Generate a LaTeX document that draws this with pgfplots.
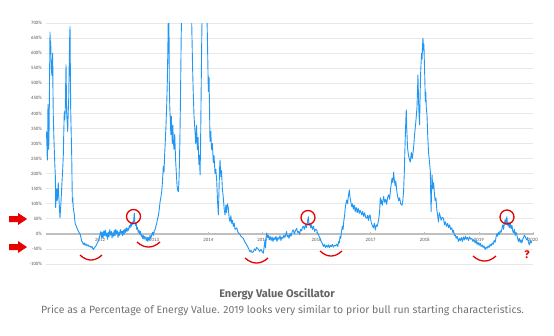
\documentclass[border=0pt]{standalone}
\usepackage{pgfplots}
\pgfplotsset{compat=1.18}
\usepackage{fontspec}
\setmainfont{Fira Sans}
\newfontfamily\tickfont{Carlito}
\definecolor{evoblue}{RGB}{33,150,243}
\definecolor{gridgray}{RGB}{232,232,232}
\definecolor{axgray}{RGB}{191,191,191}
\definecolor{ticktext}{RGB}{89,89,89}
\definecolor{annred}{RGB}{230,0,0}
\definecolor{captitle}{RGB}{100,100,100}
\definecolor{capsub}{RGB}{115,115,115}
\begin{document}
\begin{tikzpicture}[x=1pt,y=1pt]
\useasboundingbox (0,0) rectangle (554,335);
\begin{axis}[
  at={(46pt,71pt)}, anchor=south west,
  scale only axis, width=487pt, height=241pt,
  xmin=2011, xmax=2020, ymin=-100, ymax=700,
  axis x line=middle, axis y line=left,
  y axis line style={draw=none},
  x axis line style={draw=axgray, line width=1.3pt, -},
  xtick={2011,2012,...,2020},
  xticklabels={2011,2012,2013,2014,2015,2016,2017,2018,2019,2020},
  ytick={-100,-50,...,700},
  yticklabel={\pgfmathprintnumber{\tick}\%},
  /pgf/number format/assume math mode=true,
  ticklabel style={font=\tickfont\fontsize{4.9}{5.5}\selectfont, text=ticktext},
  xticklabel style={yshift=1pt},
  yticklabel style={xshift=1pt},
  major x tick style={draw=axgray, line width=0.6pt},
  x tick style={draw=axgray},
  major tick length=3pt,
  y tick style={draw=none},
  ymajorgrids, grid style={draw=gridgray, line width=0.8pt},
  clip=true,
]
\addplot[evoblue, line width=0.9pt, line join=round] coordinates {
(2011.009,340)(2011.018,290)(2011.024,245)(2011.031,330)(2011.037,430)(2011.043,360)(2011.050,280)(2011.055,320)(2011.061,420)(2011.068,560)(2011.074,670)(2011.080,610)(2011.087,640)(2011.092,590)(2011.102,540)(2011.111,525)(2011.116,560)(2011.124,600)(2011.129,470)(2011.135,390)(2011.144,330)(2011.153,280)(2011.163,230)(2011.172,195)(2011.179,87)(2011.185,120)(2011.198,150)(2011.207,110)(2011.216,130)(2011.226,170)(2011.235,130)(2011.246,95)(2011.259,53)(2011.268,80)(2011.277,105)(2011.287,140)(2011.296,173)(2011.309,215)(2011.320,262)(2011.329,340)(2011.338,405)(2011.348,380)(2011.357,420)(2011.364,500)(2011.370,561)(2011.377,470)(2011.383,395)(2011.392,370)(2011.401,340)(2011.410,400)(2011.420,450)(2011.429,560)(2011.436,640)(2011.444,688)(2011.451,520)(2011.457,405)(2011.466,330)(2011.475,262)(2011.481,180)(2011.487,105)(2011.496,120)(2011.503,87)(2011.513,75)(2011.523,65)(2011.532,45)(2011.542,32)(2011.555,28)(2011.567,22)(2011.582,15)(2011.597,10)(2011.610,5)(2011.628,0)(2011.643,-10)(2011.660,-24)(2011.675,-28)(2011.689,-35)(2011.706,-30)(2011.721,-38)(2011.739,-33)(2011.758,-40)(2011.776,-36)(2011.795,-42)(2011.813,-40)(2011.832,-45)(2011.850,-42)(2011.874,-52)(2011.896,-46)(2011.915,-42)(2011.937,-35)(2011.952,-28)(2011.967,-24)(2011.983,-15)(2011.998,-3)
(2012.013,8)(2012.026,-12)(2012.039,5)(2012.054,-15)(2012.068,10)(2012.081,-5)(2012.096,12)(2012.109,-8)(2012.124,3)(2012.137,-18)(2012.152,6)(2012.164,-10)(2012.179,14)(2012.192,-4)(2012.207,8)(2012.220,-14)(2012.235,4)(2012.248,-8)(2012.262,12)(2012.275,-6)(2012.290,15)(2012.303,0)(2012.318,10)(2012.331,-12)(2012.346,6)(2012.359,-5)(2012.373,14)(2012.386,2)(2012.401,9)(2012.414,-6)(2012.429,12)(2012.442,-2)(2012.457,16)(2012.470,5)(2012.484,20)(2012.497,8)(2012.512,18)(2012.525,12)(2012.540,28)(2012.553,20)(2012.568,35)(2012.581,25)(2012.595,40)(2012.608,32)(2012.621,45)(2012.632,69)(2012.641,40)(2012.654,28)(2012.667,35)(2012.677,15)(2012.691,22)(2012.704,5)(2012.719,12)(2012.734,-2)(2012.747,8)(2012.760,-8)(2012.769,-3)(2012.784,-15)(2012.797,-5)(2012.812,-18)(2012.826,-8)(2012.839,-14)(2012.854,-22)(2012.867,-10)(2012.882,-25)(2012.895,-12)(2012.910,-20)(2012.922,-5)(2012.937,-15)(2012.954,-3)(2012.969,5)(2012.984,-5)
(2013.000,10)(2013.015,13)(2013.030,25)(2013.046,35)(2013.061,50)(2013.076,60)(2013.092,80)(2013.107,105)(2013.122,120)(2013.138,140)(2013.153,175)(2013.168,225)(2013.181,205)(2013.192,260)(2013.203,300)(2013.218,362)(2013.231,430)(2013.242,505)(2013.251,600)(2013.260,720)(2013.270,780)(2013.279,495)(2013.288,420)(2013.297,380)(2013.307,330)(2013.316,390)(2013.325,340)(2013.334,300)(2013.344,360)(2013.353,310)(2013.366,280)(2013.379,330)(2013.394,250)(2013.409,200)(2013.422,160)(2013.433,145)(2013.446,140)(2013.455,165)(2013.464,220)(2013.473,300)(2013.483,420)(2013.492,550)(2013.499,660)(2013.510,760)(2013.532,900)(2013.569,1050)(2013.606,980)(2013.643,1100)(2013.671,900)(2013.693,700)(2013.708,560)(2013.721,470)(2013.736,390)(2013.754,340)(2013.767,300)(2013.782,360)(2013.797,280)(2013.810,320)(2013.825,230)(2013.838,260)(2013.847,196)(2013.857,300)(2013.866,450)(2013.875,600)(2013.884,720)(2013.908,900)(2013.940,850)(2013.967,800)(2013.986,620)
(2014.000,472)(2014.013,520)(2014.022,420)(2014.031,306)(2014.046,340)(2014.059,280)(2014.074,300)(2014.092,237)(2014.105,260)(2014.124,200)(2014.138,215)(2014.155,176)(2014.170,110)(2014.185,63)(2014.198,150)(2014.207,210)(2014.216,245)(2014.231,190)(2014.244,210)(2014.259,150)(2014.277,120)(2014.294,80)(2014.309,63)(2014.324,95)(2014.337,70)(2014.351,100)(2014.370,86)(2014.383,55)(2014.401,40)(2014.416,60)(2014.433,35)(2014.447,45)(2014.462,25)(2014.479,35)(2014.494,15)(2014.525,20)(2014.549,5)(2014.577,0)(2014.604,-8)(2014.628,-12)(2014.647,-15)(2014.669,-25)(2014.688,-30)(2014.710,-37)(2014.734,-45)(2014.752,-52)(2014.771,-60)(2014.789,-55)(2014.808,-62)(2014.832,-59)(2014.854,-50)(2014.873,-55)(2014.893,-45)(2014.919,-50)(2014.947,-58)(2014.974,-52)(2014.998,-60)
(2015.017,-64)(2015.030,-45)(2015.048,-20)(2015.057,-47)(2015.070,-10)(2015.079,3)(2015.094,-12)(2015.109,-5)(2015.126,-20)(2015.140,-8)(2015.159,-22)(2015.177,-10)(2015.194,-25)(2015.213,-12)(2015.231,-20)(2015.250,-8)(2015.268,-25)(2015.287,-12)(2015.305,-18)(2015.325,-6)(2015.342,-22)(2015.360,-10)(2015.379,-15)(2015.397,-4)(2015.416,-12)(2015.446,8)(2015.461,-10)(2015.476,-5)(2015.492,-15)(2015.510,2)(2015.529,-8)(2015.553,10)(2015.571,13)(2015.590,0)(2015.612,12)(2015.634,18)(2015.649,5)(2015.667,8)(2015.686,-2)(2015.704,15)(2015.723,10)(2015.741,22)(2015.756,25)(2015.775,15)(2015.793,30)(2015.812,20)(2015.830,38)(2015.849,57)(2015.861,28)(2015.876,35)(2015.893,20)(2015.907,30)(2015.926,15)(2015.945,25)(2015.963,8)(2015.982,15)
(2016.004,13)(2016.019,0)(2016.033,0)(2016.050,-10)(2016.065,-15)(2016.083,-25)(2016.102,-30)(2016.126,-42)(2016.144,-35)(2016.163,-45)(2016.181,-38)(2016.200,-44)(2016.218,-36)(2016.237,-46)(2016.255,-38)(2016.273,-42)(2016.292,-35)(2016.311,-44)(2016.329,-38)(2016.348,-40)(2016.370,-34)(2016.392,-42)(2016.410,-25)(2016.421,-30)(2016.434,-8)(2016.447,-15)(2016.462,10)(2016.477,25)(2016.490,15)(2016.505,45)(2016.518,60)(2016.527,80)(2016.542,100)(2016.558,113)(2016.573,100)(2016.588,125)(2016.606,146)(2016.619,120)(2016.634,105)(2016.651,90)(2016.666,100)(2016.680,82)(2016.697,95)(2016.714,74)(2016.732,88)(2016.751,70)(2016.769,85)(2016.788,68)(2016.806,78)(2016.837,63)(2016.852,75)(2016.871,58)(2016.889,70)(2016.908,55)(2016.930,52)(2016.945,62)(2016.960,45)(2016.976,60)(2016.989,63)
(2017.007,40)(2017.026,30)(2017.050,20)(2017.068,35)(2017.086,13)(2017.104,30)(2017.123,25)(2017.147,47)(2017.164,70)(2017.178,120)(2017.189,100)(2017.197,113)(2017.215,95)(2017.239,124)(2017.258,105)(2017.276,115)(2017.295,98)(2017.313,120)(2017.332,130)(2017.350,115)(2017.369,150)(2017.395,185)(2017.410,170)(2017.424,205)(2017.437,180)(2017.452,160)(2017.465,175)(2017.484,140)(2017.498,125)(2017.517,110)(2017.536,120)(2017.554,100)(2017.579,95)(2017.594,110)(2017.608,140)(2017.621,200)(2017.632,273)(2017.643,340)(2017.651,380)(2017.658,412)(2017.667,350)(2017.682,285)(2017.699,260)(2017.714,250)(2017.732,238)(2017.751,270)(2017.769,250)(2017.793,285)(2017.812,330)(2017.834,370)(2017.856,420)(2017.867,480)(2017.874,528)(2017.884,450)(2017.893,400)(2017.904,362)(2017.913,450)(2017.923,530)(2017.930,560)(2017.941,600)(2017.950,580)(2017.960,630)(2017.967,650)(2017.976,610)(2017.984,630)(2017.991,580)
(2018.000,520)(2018.010,440)(2018.019,470)(2018.028,420)(2018.041,395)(2018.056,320)(2018.070,270)(2018.087,240)(2018.102,208)(2018.111,120)(2018.117,74)(2018.126,150)(2018.134,196)(2018.148,150)(2018.163,170)(2018.180,130)(2018.191,110)(2018.206,120)(2018.223,80)(2018.238,60)(2018.253,40)(2018.269,70)(2018.284,60)(2018.303,45)(2018.321,55)(2018.345,52)(2018.364,30)(2018.382,40)(2018.401,25)(2018.423,35)(2018.441,20)(2018.460,30)(2018.478,15)(2018.500,20)(2018.515,5)(2018.530,12)(2018.547,-5)(2018.562,-3)(2018.580,-15)(2018.599,-8)(2018.623,-25)(2018.641,-15)(2018.660,-22)(2018.678,-12)(2018.697,-25)(2018.715,-10)(2018.734,-20)(2018.752,-8)(2018.771,-18)(2018.789,-12)(2018.808,-22)(2018.826,-10)(2018.848,-18)(2018.870,-15)(2018.889,-25)(2018.907,-18)(2018.930,-30)(2018.949,-22)(2018.967,-35)(2018.985,-28)
(2019.004,-38)(2019.022,-30)(2019.041,-42)(2019.059,-36)(2019.078,-45)(2019.096,-40)(2019.115,-52)(2019.133,-44)(2019.152,-48)(2019.170,-40)(2019.189,-45)(2019.207,-35)(2019.226,-40)(2019.244,-30)(2019.263,-35)(2019.281,-22)(2019.300,-28)(2019.318,-10)(2019.331,0)(2019.346,-8)(2019.360,5)(2019.377,-2)(2019.392,10)(2019.410,5)(2019.429,20)(2019.442,30)(2019.457,15)(2019.471,35)(2019.486,47)(2019.499,30)(2019.510,50)(2019.518,57)(2019.527,35)(2019.542,25)(2019.556,40)(2019.569,20)(2019.584,35)(2019.597,18)(2019.612,28)(2019.625,10)(2019.640,3)(2019.656,15)(2019.671,-5)(2019.686,5)(2019.701,-3)(2019.716,-15)(2019.730,-25)(2019.747,-15)(2019.763,-28)(2019.778,-20)(2019.794,-30)(2019.810,-18)(2019.825,-12)(2019.841,-5)(2019.854,-8)(2019.869,-15)(2019.886,-20)(2019.901,-12)(2019.915,-28)(2019.934,-37)(2019.950,-22)(2019.965,-30)(2019.978,-25)
};
\end{axis}
% annotations
\begin{scope}[annred, line width=1.3pt]
\draw (133.5,118.5) circle (7);
\draw (308,117.5) circle (7);
\draw (507,118) circle (7);
\draw (80,80) .. controls (87,73.3) and (95,73.3) .. (102,80);
\draw (137,93) .. controls (144.5,86.3) and (152.5,86.3) .. (160,93);
\draw (245,77) .. controls (252.5,70.3) and (260.5,70.3) .. (268,77);
\draw (320,84) .. controls (327.3,77.3) and (334.7,77.3) .. (342,84);
\draw (473,79) .. controls (480.5,72.3) and (488.5,72.3) .. (496,79);
\end{scope}
\fill[annred] (9,113) -- (18,113) -- (18,110) -- (27,116) -- (18,122) -- (18,119) -- (9,119) -- cycle;
\fill[annred] (9,85) -- (18,85) -- (18,82) -- (27,88) -- (18,94) -- (18,91) -- (9,91) -- cycle;
\node[annred, font=\fontsize{11}{12}\selectfont\bfseries] at (527,80) {?};
\node[captitle, font=\fontsize{11}{12}\selectfont\bfseries] at (277,41) {Energy Value Oscillator};
\node[capsub, font=\fontsize{10.5}{12}\selectfont] at (282.5,24) {Price as a Percentage of Energy Value. 2019 looks very similar to prior bull run starting characteristics.};
\end{tikzpicture}
\end{document}
